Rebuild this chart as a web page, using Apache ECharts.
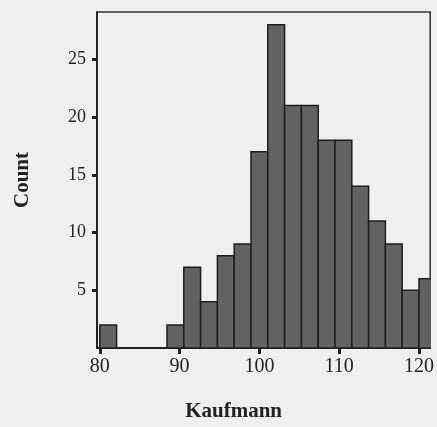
<!DOCTYPE html>
<html>
<head>
<meta charset="utf-8">
<script src="https://cdn.jsdelivr.net/npm/echarts@6/dist/echarts.min.js"></script>
<style>
  html, body { margin: 0; padding: 0; background: #efefef; }
  #chart { width: 437px; height: 427px; }
</style>
</head>
<body>
<div id="chart"></div>
<script>
// histogram bins: 20 bins starting at 80, each ~2.105 wide
const binStart = 80
const binWidth = 40 / 19
const counts = [2, 0, 0, 0, 2, 7, 4, 8, 9, 17, 28, 21, 21, 18, 18, 14, 11, 9, 5, 6]
const xTicks = [80, 90, 100, 110, 120]
const yTicks = [5, 10, 15, 20, 25]

const serif = "'Liberation Serif', 'Times New Roman', serif"
const ink = '#222'

const chart = echarts.init(document.getElementById('chart'))

const data = counts.map((c, i) => [binStart + i * binWidth, c])

chart.setOption({
  backgroundColor: '#efefef',
  animation: false,
  grid: {
    left: 97,
    right: 4,
    top: 12,
    bottom: 77,
    show: true,
    borderColor: '#333',
    borderWidth: 1.5,
    backgroundColor: 'transparent'
  },
  xAxis: {
    type: 'value',
    min: 79.65,
    max: 121.4,
    name: 'Kaufmann',
    nameLocation: 'middle',
    nameGap: 53,
    nameTextStyle: {
      fontFamily: serif,
      fontWeight: 'bold',
      fontSize: 21,
      color: ink,
      padding: [0, 60, 0, 0]
    },
    splitLine: { show: false },
    axisLine: { lineStyle: { color: '#222', width: 2 } },
    axisTick: {
      customValues: xTicks,
      length: 6,
      lineStyle: { color: '#222', width: 3 }
    },
    axisLabel: {
      customValues: xTicks,
      margin: 9,
      fontFamily: serif,
      fontSize: 20,
      color: ink
    }
  },
  yAxis: {
    type: 'value',
    min: 0,
    max: 29.1,
    name: 'Count',
    nameLocation: 'middle',
    nameGap: 64,
    nameTextStyle: {
      fontFamily: serif,
      fontWeight: 'bold',
      fontSize: 21,
      color: ink
    },
    splitLine: { show: false },
    axisLine: { show: true, lineStyle: { color: '#222', width: 2 } },
    axisTick: {
      customValues: yTicks,
      length: 5,
      lineStyle: { color: '#222', width: 3 }
    },
    axisLabel: {
      customValues: yTicks,
      margin: 11,
      fontFamily: serif,
      fontSize: 18,
      color: ink
    }
  },
  series: [
    {
      type: 'custom',
      clip: true,
      data: data,
      renderItem: (params, api) => {
        const x0 = api.value(0)
        const c = api.value(1)
        if (!c) return null
        const p0 = api.coord([x0, c])
        const p1 = api.coord([x0 + binWidth, 0])
        return {
          type: 'rect',
          shape: { x: p0[0], y: p0[1], width: p1[0] - p0[0], height: p1[1] - p0[1] },
          style: { fill: '#626262', stroke: '#1e1e1e', lineWidth: 1.5 }
        }
      }
    }
  ]
})
</script>
</body>
</html>
